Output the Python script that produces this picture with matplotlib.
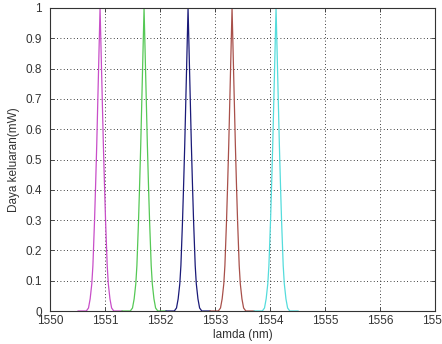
import numpy as np
import matplotlib
matplotlib.use("Agg")
import matplotlib.pyplot as plt

# peak centres (nm)
centers = [1550.91, 1551.71, 1552.51, 1553.31, 1554.11]
colors = ['#c84ec8', '#55c855', '#1a1a78', '#a8504a', '#55dcdc']

# shape of one peak: offset from centre (nm) and output power (mW)
offsets = [-0.40, -0.25, -0.21, -0.18, -0.15, -0.13, -0.10, -0.08, -0.06, -0.04, -0.02, 0.0,
           0.02, 0.04, 0.06, 0.08, 0.10, 0.13, 0.15, 0.18, 0.21, 0.25, 0.40]
power = [0.0, 0.0, 0.01, 0.04, 0.09, 0.15, 0.30, 0.42, 0.55, 0.70, 0.85, 1.0,
         0.85, 0.70, 0.55, 0.42, 0.30, 0.15, 0.09, 0.04, 0.01, 0.0, 0.0]

xticks = [1550, 1551, 1552, 1553, 1554, 1555, 1556, 1557]
yticks = [0, 0.1, 0.2, 0.3, 0.4, 0.5, 0.6, 0.7, 0.8, 0.9, 1]
yticklabels = ['0', '0.1', '0.2', '0.3', '0.4', '0.5', '0.6', '0.7', '0.8', '0.9', '1']

plt.rcParams['font.family'] = ['Liberation Sans', 'DejaVu Sans']
plt.rcParams['font.size'] = 8.5

fig = plt.figure(figsize=(4.42, 3.44), dpi=100)
ax = fig.add_axes([50/442, 33/344, 385/442, 303/344])

for c, col in zip(centers, colors):
    ax.plot(np.array(offsets) + c, power, color=col, lw=0.9)

ax.set_xlim(1550, 1557)
ax.set_ylim(0, 1)
ax.set_xticks(xticks)
ax.set_xticklabels([str(t) for t in xticks])
ax.set_yticks(yticks)
ax.set_yticklabels(yticklabels)
ax.grid(True, color='black', linestyle=(0, (1, 3)), linewidth=0.6)
ax.tick_params(direction='in', top=True, right=True, length=3, width=0.6, colors='#333333')
ax.tick_params(axis='x', pad=3)
ax.tick_params(axis='y', pad=6)
for s in ax.spines.values():
    s.set_linewidth(0.8)
    s.set_color('#333333')
ax.set_xlabel('lamda (nm)', labelpad=1, color='#333333')
ax.set_ylabel('Daya keluaran(mW)', labelpad=4, color='#333333')

fig.savefig('out.png', dpi=100)
